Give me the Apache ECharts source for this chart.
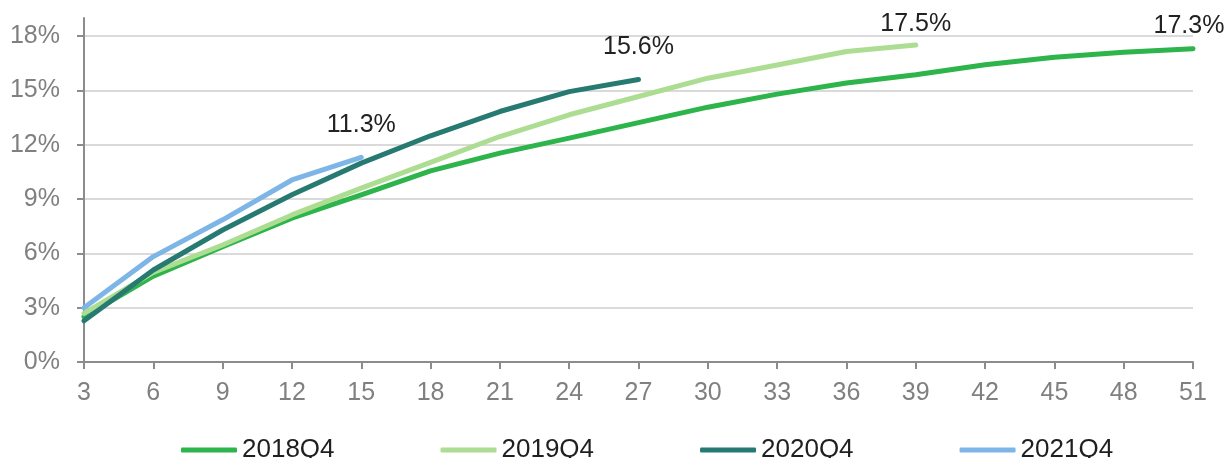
<!DOCTYPE html>
<html>
<head>
<meta charset="utf-8">
<script src="https://cdn.jsdelivr.net/npm/echarts@6/dist/echarts.min.js"></script>
<style>
  html, body { margin: 0; padding: 0; background: #ffffff; }
  #chart { width: 1228px; height: 458px; }
</style>
</head>
<body>
<div id="chart"></div>
<script>
// Months since origination (x axis categories)
const months = ['3', '6', '9', '12', '15', '18', '21', '24', '27', '30', '33', '36', '39', '42', '45', '48', '51'];

// Cumulative rate by vintage, in percent
const v2018Q4 = [2.5, 4.74, 6.37, 7.94, 9.23, 10.55, 11.53, 12.36, 13.22, 14.07, 14.79, 15.4, 15.86, 16.41, 16.83, 17.1, 17.3];
const v2019Q4 = [2.69, 4.95, 6.46, 8.12, 9.6, 11.02, 12.45, 13.65, 14.66, 15.67, 16.4, 17.14, 17.5];
const v2020Q4 = [2.28, 5.08, 7.29, 9.23, 10.98, 12.49, 13.83, 14.93, 15.6];
const v2021Q4 = [3.0, 5.82, 7.85, 10.05, 11.3];

const yTicks = { min: 0, max: 18, step: 3 };

const vintages = [
  { name: '2018Q4', values: v2018Q4, color: '#2db44b', labelGap: 10, labelShift: -4 },
  { name: '2019Q4', values: v2019Q4, color: '#acdd92', labelGap: 8, labelShift: 0 },
  { name: '2020Q4', values: v2020Q4, color: '#267a71', labelGap: 20, labelShift: 0 },
  { name: '2021Q4', values: v2021Q4, color: '#7db6e6', labelGap: 20, labelShift: 0 }
];

const FONT = '"Liberation Sans", Arial, sans-serif';

// Label only the final point of each vintage with its value
function withEndLabel(values, gap, shift) {
  return values.map((v, i) => i === values.length - 1
    ? { value: v, label: { show: true, position: 'top', distance: gap, offset: [shift, 0] } }
    : v);
}

const series = vintages.map(s => ({
  name: s.name,
  type: 'line',
  xAxisIndex: 0,
  yAxisIndex: 0,
  data: withEndLabel(s.values, s.labelGap, s.labelShift),
  showSymbol: true,
  symbol: 'circle',
  symbolSize: 0,
  smooth: false,
  color: s.color,
  lineStyle: { width: 5, color: s.color, cap: 'round', join: 'round' },
  label: {
    show: false,
    color: '#222222',
    fontFamily: FONT,
    fontSize: 25,
    formatter: p => p.value.toFixed(1) + '%'
  },
  emphasis: { disabled: true },
  animation: false
}));

const axisGray = '#8c8c8c';

const option = {
  backgroundColor: '#ffffff',
  animation: false,
  grid: [
    { left: 84, right: 35, top: 36, bottom: 96 },
    // slightly taller frame so the vertical axis runs a little past the top gridline
    { left: 84, right: 35, top: 18, bottom: 96 }
  ],
  legend: {
    left: 176,
    top: 432,
    itemWidth: 56,
    itemHeight: 5,
    itemGap: 106,
    icon: 'roundRect',
    textStyle: { fontFamily: FONT, fontSize: 26, color: '#1f1f1f' },
    data: vintages.map(s => s.name)
  },
  xAxis: [
    {
      gridIndex: 0,
      type: 'category',
      boundaryGap: false,
      data: months,
      axisLine: { show: true, lineStyle: { color: axisGray, width: 2 } },
      axisTick: { show: true, length: 7, lineStyle: { color: axisGray, width: 2 } },
      axisLabel: { fontFamily: FONT, fontSize: 25, color: '#808080', margin: 19 },
      splitLine: { show: false }
    },
    { gridIndex: 1, type: 'value', show: false, min: 0, max: 1 }
  ],
  yAxis: [
    {
      gridIndex: 0,
      type: 'value',
      min: yTicks.min,
      max: yTicks.max,
      interval: yTicks.step,
      axisLine: { show: true, lineStyle: { color: axisGray, width: 2 } },
      axisTick: { show: true, length: 7, lineStyle: { color: axisGray, width: 2 } },
      axisLabel: { fontFamily: FONT, fontSize: 25, color: '#808080', margin: 24, formatter: v => v + '%' },
      splitLine: { show: true, lineStyle: { color: '#dadada', width: 2 } }
    },
    {
      gridIndex: 1,
      type: 'value',
      min: 0,
      max: 19,
      axisLine: { show: true, lineStyle: { color: axisGray, width: 2 } },
      axisTick: { show: false },
      axisLabel: { show: false },
      splitLine: { show: false }
    }
  ],
  series: series
};

const chart = echarts.init(document.getElementById('chart'), null, { renderer: 'canvas' });
chart.setOption(option);
</script>
</body>
</html>
